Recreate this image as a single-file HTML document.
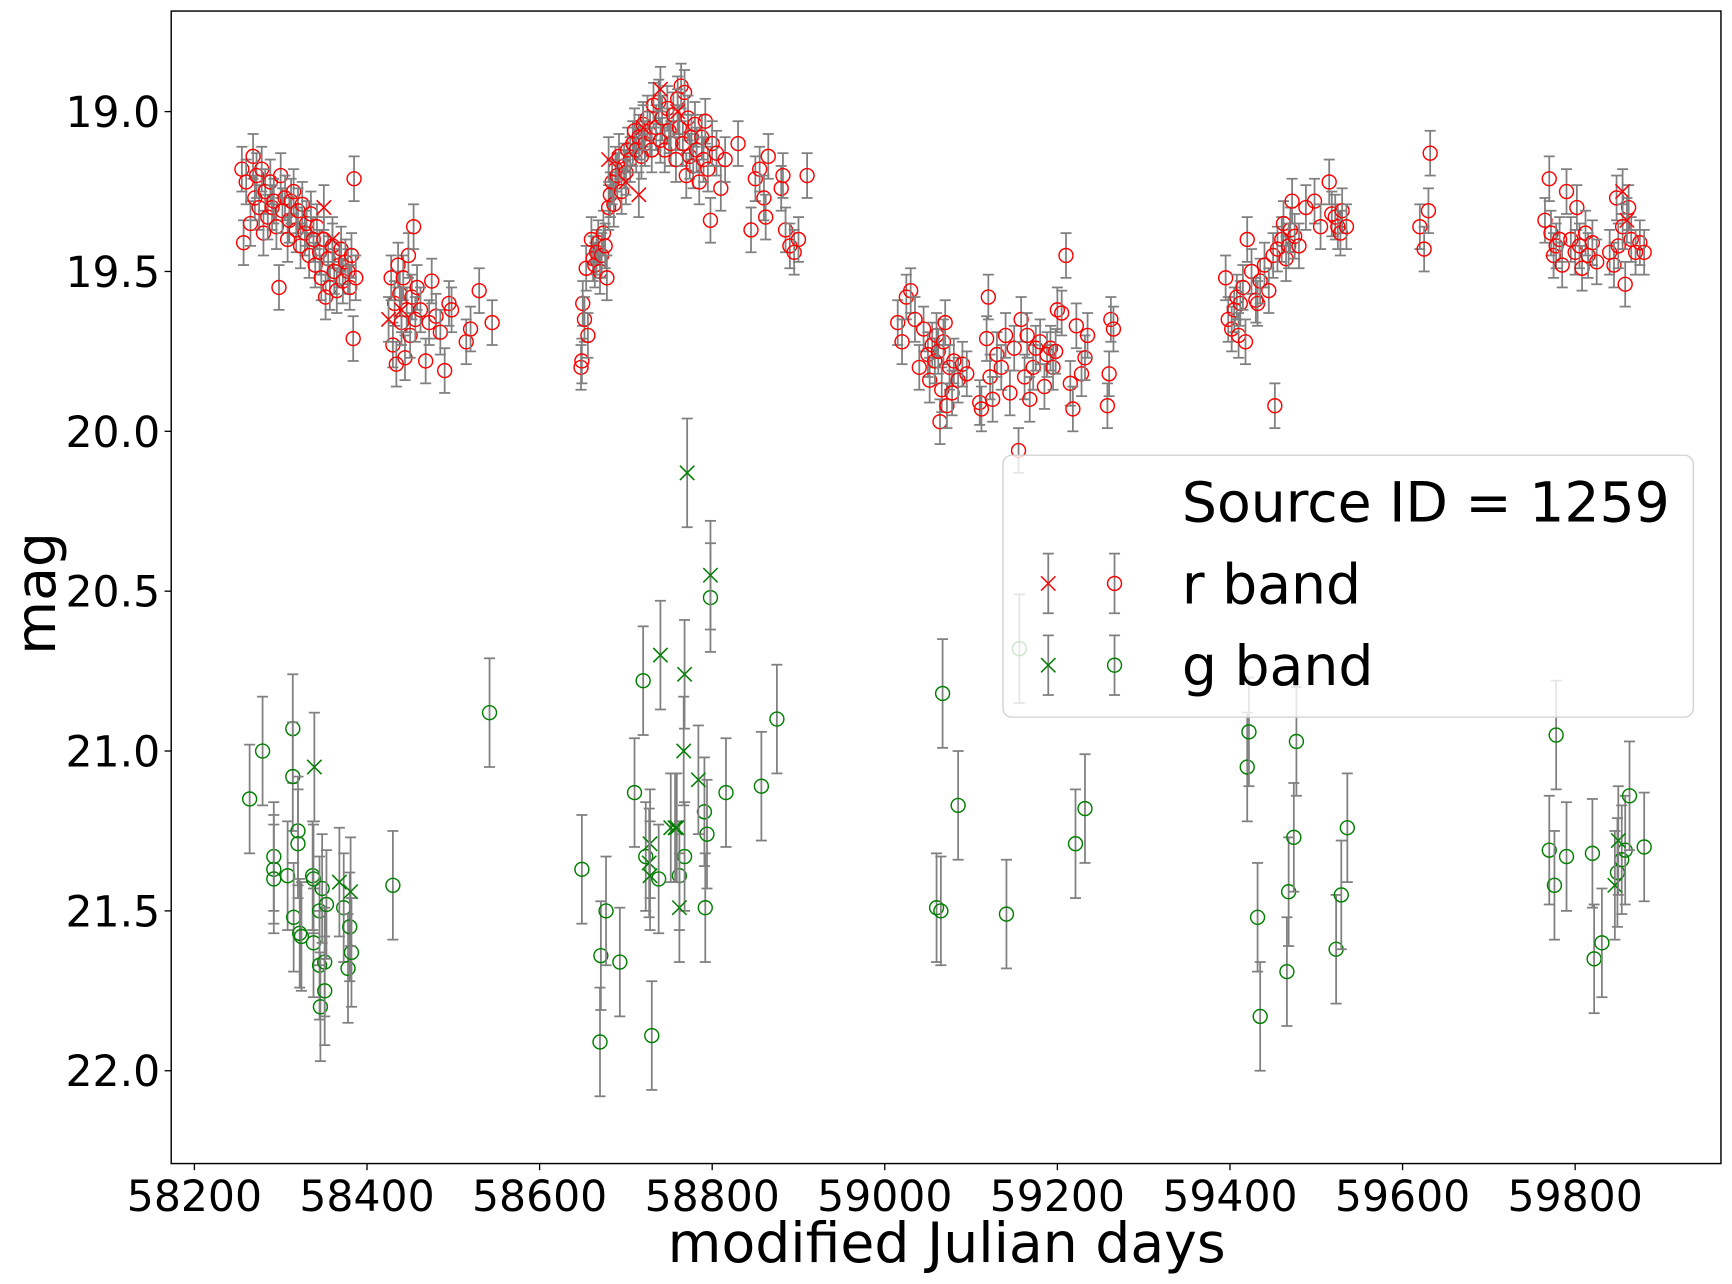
<!DOCTYPE html>
<html><head><meta charset="utf-8"><style>
html,body{margin:0;padding:0;background:#fff;}
svg{display:block;font-family:"DejaVu Sans","Liberation Sans",sans-serif;}
</style></head><body>
<svg id="chart" width="1732" height="1284" viewBox="0 0 1568 1162" preserveAspectRatio="none" xmlns="http://www.w3.org/2000/svg">
<rect x="0" y="0" width="1568" height="1162" fill="#fff"/>
<g id="marks"></g>
<g id="axes"></g>
<g id="legend"></g>
</svg>
<script>
const xTicks=[58200,58400,58600,58800,59000,59200,59400,59600,59800];
const yTicks=[19.0,19.5,20.0,20.5,21.0,21.5,22.0];
const rErr=0.07, gErr=0.17;
const rCircleMjd=[58255,58257,58260,58265,58268,58270,58272,58275,58278,58280,58282,58285,58288,58290,58292,58295,58298,58300,58302,58305,58308,58310,58312,58315,58318,58320,58323,58325,58328,58330,58333,58335,58338,58340,58342,58345,58347,58350,58352,58355,58357,58360,58362,58365,58368,58370,58372,58375,58378,58380,58382,58384,58385,58387,
58428,58430,58432,58434,58436,58438,58440,58442,58444,58446,58448,58450,58452,58454,58456,58458,58462,58468,58472,58475,58480,58485,58490,58495,58498,58515,58520,58530,58545,
58648,58649,58650,58652,58654,58656,58660,58662,58664,58666,58668,58670,58672,58674,58676,58678,58680,58682,58684,58686,58688,58690,58692,58695,58698,58700,58702,58705,58708,58710,58712,58715,58718,58720,58722,58725,58728,58730,58732,58735,58738,58740,58742,58745,58748,58750,58752,58755,58758,58760,58762,58764,58766,58768,58770,58772,58774,58776,58778,58780,58782,58785,58788,58790,58792,58795,58798,58800,58805,58810,58815,58830,58845,58850,58855,58860,58862,58865,58880,58882,58885,58890,58895,58900,58910,
59015,59020,59025,59030,59035,59040,59045,59050,59052,59055,59058,59060,59062,59064,59066,59068,59070,59072,59075,59078,59080,59085,59090,59095,59110,59112,59118,59120,59122,59125,59130,59135,59140,59145,59150,59155,59158,59162,59165,59168,59172,59175,59180,59185,59188,59192,59195,59198,59200,59205,59210,59215,59218,59222,59228,59232,59235,59258,59260,59262,59265,
59395,59398,59402,59405,59408,59410,59412,59415,59418,59420,59425,59430,59432,59435,59440,59445,59450,59452,59455,59460,59462,59465,59468,59470,59472,59475,59480,59488,59498,59505,59515,59518,59522,59525,59528,59530,59535,59620,59625,59630,59632,
59765,59770,59772,59775,59778,59782,59785,59790,59795,59800,59802,59805,59808,59812,59815,59820,59825,59840,59845,59848,59850,59855,59858,59862,59865,59870,59875,59880];
const rCircleMag=[19.18,19.41,19.22,19.35,19.14,19.27,19.20,19.30,19.18,19.38,19.25,19.33,19.22,19.30,19.28,19.36,19.55,19.20,19.31,19.27,19.40,19.34,19.28,19.25,19.37,19.31,19.42,19.29,19.38,19.35,19.45,19.32,19.40,19.48,19.36,19.44,19.52,19.40,19.58,19.46,19.55,19.42,19.50,19.56,19.48,19.43,19.53,19.47,19.50,19.55,19.45,19.71,19.21,19.52,
19.52,19.73,19.60,19.79,19.48,19.57,19.66,19.52,19.77,19.62,19.45,19.70,19.58,19.36,19.65,19.55,19.62,19.78,19.66,19.53,19.64,19.69,19.81,19.60,19.62,19.72,19.68,19.56,19.66,
19.80,19.78,19.60,19.65,19.49,19.70,19.40,19.46,19.48,19.44,19.41,19.50,19.45,19.38,19.42,19.52,19.30,19.26,19.22,19.29,19.18,19.20,19.14,19.25,19.17,19.19,19.12,19.15,19.10,19.06,19.12,19.08,19.14,19.04,19.10,19.02,19.07,19.12,18.98,19.05,18.97,19.09,19.02,19.12,18.99,19.06,19.10,19.01,19.15,18.96,19.05,18.92,19.10,18.94,19.20,19.02,19.14,19.08,19.17,19.04,19.12,19.22,19.08,19.15,19.03,19.18,19.34,19.10,19.13,19.24,19.15,19.10,19.37,19.21,19.18,19.27,19.33,19.14,19.24,19.20,19.37,19.42,19.44,19.40,19.20,
19.66,19.72,19.58,19.56,19.65,19.80,19.68,19.76,19.84,19.73,19.78,19.70,19.75,19.97,19.87,19.72,19.66,19.92,19.80,19.88,19.78,19.84,19.79,19.82,19.91,19.93,19.71,19.58,19.83,19.90,19.76,19.80,19.70,19.88,19.74,20.06,19.65,19.83,19.70,19.90,19.80,19.74,19.72,19.86,19.76,19.74,19.80,19.75,19.62,19.63,19.45,19.85,19.93,19.67,19.82,19.77,19.70,19.92,19.82,19.65,19.68,
19.52,19.65,19.68,19.62,19.58,19.70,19.60,19.55,19.72,19.40,19.50,19.59,19.60,19.53,19.48,19.56,19.45,19.92,19.43,19.40,19.35,19.46,19.42,19.37,19.28,19.39,19.42,19.30,19.28,19.36,19.22,19.32,19.33,19.36,19.38,19.31,19.36,19.36,19.43,19.31,19.13,
19.34,19.21,19.38,19.45,19.42,19.40,19.48,19.25,19.40,19.44,19.30,19.42,19.49,19.38,19.45,19.41,19.47,19.44,19.48,19.27,19.42,19.36,19.54,19.30,19.40,19.44,19.41,19.44];
const rCrossMjd=[58350,58360,58425,58440,58680,58700,58715,58720,58740,58760,59855,59860];
const rCrossMag=[19.30,19.40,19.65,19.62,19.15,19.22,19.26,19.05,18.93,19.00,19.25,19.34];
const gCircleMjd=[58264,58279,58292,58292,58292,58308,58314,58314,58320,58320,58315,58322,58324,58337,58338,58338,58345,58345,58348,58346,58351,58351,58353,58373,58378,58380,58382,58430,58542,58649,58671,58670,58677,58693,58710,58720,58723,58730,58738,58762,58768,58791,58794,58792,58798,58816,58857,58875,59060,59065,59067,59085,59141,59156,59221,59232,59420,59422,59432,59435,59466,59468,59474,59477,59523,59529,59536,59770,59776,59778,59790,59820,59822,59831,59849,59854,59858,59863,59880];
const gCircleMag=[21.15,21.0,21.33,21.37,21.40,21.39,20.93,21.08,21.25,21.29,21.52,21.57,21.58,21.39,21.40,21.60,21.50,21.67,21.43,21.80,21.66,21.75,21.48,21.49,21.68,21.55,21.63,21.42,20.88,21.37,21.64,21.91,21.50,21.66,21.13,20.78,21.33,21.89,21.40,21.39,21.33,21.19,21.26,21.49,20.52,21.13,21.11,20.90,21.49,21.50,20.82,21.17,21.51,20.68,21.29,21.18,21.05,20.94,21.52,21.83,21.69,21.44,21.27,20.97,21.62,21.45,21.24,21.31,21.42,20.95,21.33,21.32,21.65,21.60,21.38,21.34,21.31,21.14,21.30];
const gCrossMjd=[58339,58368,58381,58728,58727,58728,58740,58752,58757,58762,58759,58767,58768,58771,58784,58798,59846,59850];
const gCrossMag=[21.05,21.41,21.44,21.29,21.35,21.39,20.70,21.24,21.24,21.49,21.24,21.0,20.76,20.13,21.09,20.45,21.42,21.28];

const L=155,R=1558,T=10,B=1053;
function xs(d){return 176+(d-58200)*0.78125;}
function ys(m){return 101+(m-19)*289.333;}
const NS="http://www.w3.org/2000/svg";
function mk(tag,attrs,parent){const e=document.createElementNS(NS,tag);for(const k in attrs)e.setAttribute(k,attrs[k]);parent.appendChild(e);return e;}
const marks=document.getElementById('marks');
function errbar(x,y,err,parent){
  const y1=ys(y-err),y2=ys(y+err);
  const g=mk('g',{},parent);
  
  
  mk('line',{x1:x,x2:x,y1:y1,y2:y2,stroke:'#808080','stroke-width':1.6},g);
  mk('line',{x1:x-5,x2:x+5,y1:y1,y2:y1,stroke:'#808080','stroke-width':1.6},g);
  mk('line',{x1:x-5,x2:x+5,y1:y2,y2:y2,stroke:'#808080','stroke-width':1.6},g);
}
function circle(x,y,c,parent,name){
  const e=mk('circle',{cx:x,cy:y,r:6.3,fill:'none',stroke:c,'stroke-width':1.3},parent);
  
  
}
function cross(x,y,c,parent,name){
  const g=mk('g',{},parent);
  
  
  mk('path',{d:`M${x-6.5},${y-6.5}L${x+6.5},${y+6.5}M${x-6.5},${y+6.5}L${x+6.5},${y-6.5}`,stroke:c,'stroke-width':1.4},g);
}
function series(mjd,mag,err,color,kind,name){
  for(let i=0;i<mjd.length;i++){
    const x=xs(mjd[i]),y=ys(mag[i]);
    errbar(x,mag[i],err,marks);
    if(kind==='o')circle(x,y,color,marks,name);else cross(x,y,color,marks,name);
  }
}
series(rCircleMjd,rCircleMag,rErr,'#ff0000','o','r-band-point');
series(rCrossMjd,rCrossMag,rErr,'#ff0000','x','r-band-cross-point');
series(gCircleMjd,gCircleMag,gErr,'#008000','o','g-band-point');
series(gCrossMjd,gCrossMag,gErr,'#008000','x','g-band-cross-point');

const axes=document.getElementById('axes');
const frame=mk('rect',{x:L,y:T,width:R-L,height:B-T,fill:'none',stroke:'#000','stroke-width':1.3},axes);


xTicks.forEach(t=>{
  const x=xs(t);
  mk('line',{x1:x,x2:x,y1:B,y2:B+6,stroke:'#000','stroke-width':1.2},axes);
  const tx=mk('text',{x:x,y:B+43,'font-size':38.5,'text-anchor':'middle',fill:'#000'},axes);
  tx.textContent=t;
  
  
});
yTicks.forEach(t=>{
  const y=ys(t);
  mk('line',{x1:L-6,x2:L,y1:y,y2:y,stroke:'#000','stroke-width':1.2},axes);
  const tx=mk('text',{x:L-10,y:y+14,'font-size':38.5,'text-anchor':'end',fill:'#000'},axes);
  tx.textContent=t.toFixed(1);
  
  
});
const xl=mk('text',{x:857,y:1142,'font-size':50,'text-anchor':'middle',fill:'#000'},axes);
xl.textContent='modified Julian days';


const yl=mk('text',{x:0,y:0,'font-size':50,'text-anchor':'middle',fill:'#000',transform:'translate(50,537) rotate(-90)'},axes);
yl.textContent='mag';



const leg=document.getElementById('legend');


mk('rect',{x:908,y:412,width:625,height:237,rx:8,fill:'#fff','fill-opacity':0.8,stroke:'#d0d0d0','stroke-width':1.2},leg);
const t0=mk('text',{x:1070,y:472,'font-size':50,fill:'#000'},leg);
t0.textContent='Source ID = 1259';


function legRow(y,color,label,name){
  [949,1009].forEach((x,i)=>{
    mk('line',{x1:x,x2:x,y1:y-27,y2:y+27,stroke:'#808080','stroke-width':1.6},leg);
    mk('line',{x1:x-5,x2:x+5,y1:y-27,y2:y-27,stroke:'#808080','stroke-width':1.6},leg);
    mk('line',{x1:x-5,x2:x+5,y1:y+27,y2:y+27,stroke:'#808080','stroke-width':1.6},leg);
    if(i===0)cross(x,y,color,leg,name+'-cross-marker');else circle(x,y,color,leg,name+'-circle-marker');
  });
  const t=mk('text',{x:1070,y:y+18,'font-size':50,fill:'#000'},leg);
  t.textContent=label;
  
  
}
legRow(528,'#ff0000','r band','legend-r-band');
legRow(602,'#008000','g band','legend-g-band');
</script>
</body></html>
